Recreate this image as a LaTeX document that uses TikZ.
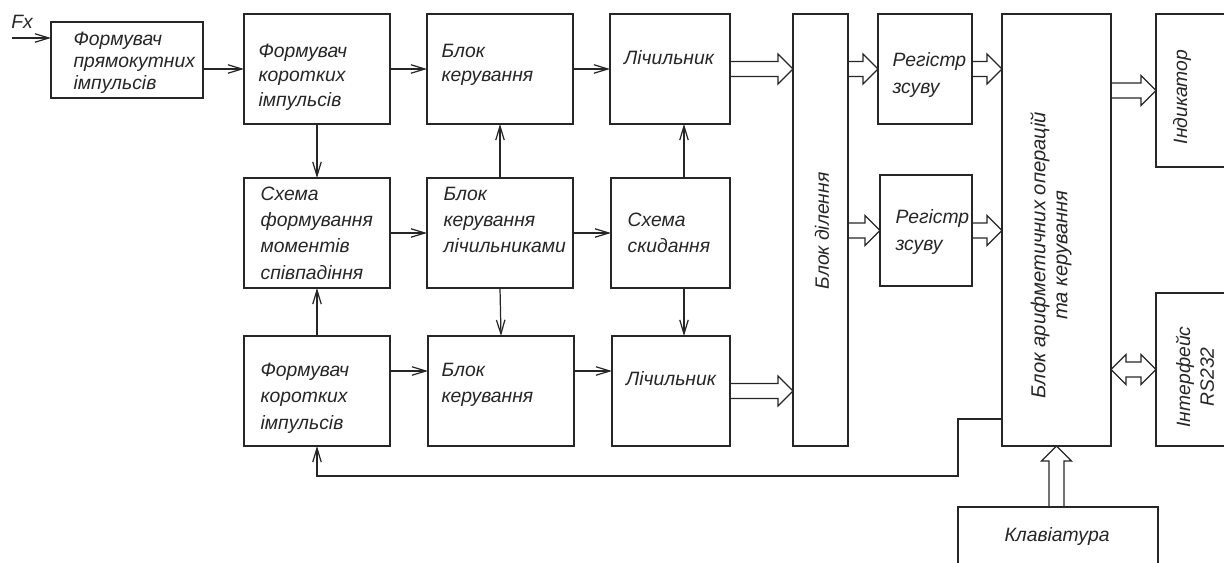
\documentclass[tikz,border=0pt]{standalone}
\usepackage{fontspec}
\setmainfont{Liberation Sans}
\usetikzlibrary{arrows.meta,calc}

\begin{document}
\begin{tikzpicture}[x=0.02cm, y=-0.02cm, line width=0.7pt, color=black!85,
    blok/.style={draw, rectangle, inner sep=0pt, outer sep=0pt},
    napys/.style={align=left, font=\fontsize{11}{15}\selectfont\itshape, inner sep=0pt},
    strilka/.style={-{Straight Barb[length=2.8mm,width=1.7mm]}},
    shyna/.style={to path={let \p1=(\tikztostart), \p2=(\tikztotarget) in
        (\x1,\y1+1.5mm) -- (\x2-3mm,\y1+1.5mm) -- (\x2-3mm,\y1+3mm) -- (\x2,\y1)
        -- (\x2-3mm,\y1-3mm) -- (\x2-3mm,\y1-1.5mm) -- (\x1,\y1-1.5mm)}},
    shynaup/.style={to path={let \p1=(\tikztostart), \p2=(\tikztotarget) in
        (\x1-1.5mm,\y1) -- (\x1-1.5mm,\y2-3mm) -- (\x1-3mm,\y2-3mm) -- (\x1,\y2)
        -- (\x1+3mm,\y2-3mm) -- (\x1+1.5mm,\y2-3mm) -- (\x1+1.5mm,\y1)}},
    shynadva/.style={to path={let \p1=(\tikztostart), \p2=(\tikztotarget) in
        (\x1,\y1) -- (\x1+3mm,\y1+3mm) -- (\x1+3mm,\y1+1.5mm) -- (\x2-3mm,\y1+1.5mm)
        -- (\x2-3mm,\y1+3mm) -- (\x2,\y1) -- (\x2-3mm,\y1-3mm) -- (\x2-3mm,\y1-1.5mm)
        -- (\x1+3mm,\y1-1.5mm) -- (\x1+3mm,\y1-3mm) -- cycle}}]
    \useasboundingbox (0,0) rectangle (1224,563);
    \clip (0,0) rectangle (1224,563);

    % Вхід Fx
    \coordinate (fx) at (12,38);
    \node[napys] (tfx) at (22,22) {Fx};

    % Верхній ряд
    \node[blok, minimum width=3.04cm, minimum height=1.52cm] (fp) at (127,60) {};
    \node[napys, anchor=west, font=\fontsize{11}{12.5}\selectfont\itshape] (tfp) at (73,63) {Формувач\\прямокутних\\імпульсів};
    \node[blok, minimum width=2.92cm, minimum height=2.2cm] (fk1) at (317,69) {};
    \node[napys, anchor=west, font=\fontsize{11}{14}\selectfont\itshape] (tfk1) at (258,77) {Формувач\\коротких\\імпульсів};
    \node[blok, minimum width=2.92cm, minimum height=2.2cm] (bk1) at (500,69) {};
    \node[napys, anchor=west, font=\fontsize{11}{14}\selectfont\itshape] (tbk1) at (441,65) {Блок\\керування};
    \node[blok, minimum width=2.4cm, minimum height=2.2cm] (lich1) at (670,69) {};
    \node[napys] (tlich1) at (669,58) {Лічильник};

    % Середній ряд
    \node[blok, minimum width=2.92cm, minimum height=2.2cm] (sf) at (317,233) {};
    \node[napys, anchor=west] (tsf) at (260,233) {Схема\\формування\\моментів\\співпадіння};
    \node[blok, minimum width=2.92cm, minimum height=2.2cm] (bkl) at (500,233) {};
    \node[napys, anchor=west] (tbkl) at (443,220) {Блок\\керування\\лічильниками};
    \node[blok, minimum width=2.38cm, minimum height=2.2cm] (sk) at (670.5,233) {};
    \node[napys, anchor=west] (tsk) at (627,233) {Схема\\скидання};

    % Нижній ряд
    \node[blok, minimum width=2.92cm, minimum height=2.2cm] (fk2) at (317,391) {};
    \node[napys, anchor=west] (tfk2) at (260,398) {Формувач\\коротких\\імпульсів};
    \node[blok, minimum width=2.92cm, minimum height=2.2cm] (bk2) at (501,391) {};
    \node[napys, anchor=west] (tbk2) at (441,385) {Блок\\керування};
    \node[blok, minimum width=2.36cm, minimum height=2.2cm] (lich2) at (671,391) {};
    \node[napys] (tlich2) at (671,379) {Лічильник};

    % Ділення, регістри, арифметика
    \node[blok, minimum width=1.1cm, minimum height=8.64cm] (dil) at (820.5,230) {};
    \node[napys, rotate=90] (tdil) at (822,231) {Блок ділення};
    \node[blok, minimum width=1.88cm, minimum height=2.2cm] (rz1) at (925,69) {};
    \node[napys, anchor=west] (trz1) at (892,75) {Регістр\\зсуву};
    \node[blok, minimum width=1.84cm, minimum height=2.22cm] (rz2) at (926,230.5) {};
    \node[napys, anchor=west] (trz2) at (895,232) {Регістр\\зсуву};
    \node[blok, minimum width=2.18cm, minimum height=8.64cm] (ar) at (1056.5,230) {};
    \node[napys, rotate=90, align=center, font=\fontsize{11.5}{12.5}\selectfont\itshape] (tar) at (1051,255) {Блок арифметичних операцій\\та керування};

    % Периферія
    \node[blok, minimum width=2.08cm, minimum height=3.06cm] (ind) at (1208,90.5) {};
    \node[napys, rotate=90] (tind) at (1182,97) {Індикатор};
    \node[blok, minimum width=2.08cm, minimum height=3.06cm] (rs) at (1208,369.5) {};
    \node[napys, rotate=90, align=center, font=\fontsize{11}{13.5}\selectfont\itshape] (trs) at (1195,377) {Інтерфейс\\RS232};
    \node[blok, minimum width=4cm, minimum height=1.86cm] (kl) at (1058,553.5) {};
    \node[napys] (tkl) at (1057,537) {Клавіатура};

    % Одиночні зв'язки
    \draw[strilka] (fx) -- (fx -| fp.west);
    \draw[strilka] (fp.east |- fk1) -- (fk1.west);
    \draw[strilka] (fk1) -- (bk1);
    \draw[strilka] (bk1) -- (lich1);
    \draw[strilka] (fk1.south) -- (sf.north);
    \draw[strilka] (sf) -- (bkl);
    \draw[strilka] (bkl) -- (sk);
    \draw[strilka] (bkl.north) -- (bk1.south);
    \draw[strilka] (bkl.south) -- (bk2.north);
    \draw[strilka] ([xshift=0.27cm]sk.north) -- ([xshift=0.27cm]sk.north |- lich1.south);
    \draw[strilka] ([xshift=0.27cm]sk.south) -- ([xshift=0.27cm]sk.south |- lich2.north);
    \draw[strilka] (fk2.north) -- (sf.south);
    \draw[strilka] ([yshift=0.4cm]fk2.east) -- ([yshift=0.4cm]bk2.west);
    \draw[strilka] ([yshift=0.4cm]bk2.east) -- ([yshift=0.4cm]bk2.east -| lich2.west);

    % Зворотний зв'язок
    \coordinate (zv1) at (958,419);
    \coordinate (zv2) at (958,476);
    \draw[strilka] (ar.west |- zv1) -- (zv1) -- (zv2) -| (fk2.south);

    % Шини
    \draw (lich1.east) to[shyna] (lich1.east -| dil.west);
    \draw (lich2.east) to[shyna] (lich2.east -| dil.west);
    \draw (dil.east |- rz1) to[shyna] (rz1.west);
    \draw (rz1.east) to[shyna] (rz1.east -| ar.west);
    \draw (dil.east |- rz2) to[shyna] (rz2.west);
    \draw (rz2.east) to[shyna] (rz2.east -| ar.west);
    \draw (ar.east |- ind) to[shyna] (ind.west);
    \draw (ar.east |- rs) to[shynadva] (rs.west);
    \draw (ar.south |- kl.north) to[shynaup] (ar.south);
\end{tikzpicture}
\end{document}
